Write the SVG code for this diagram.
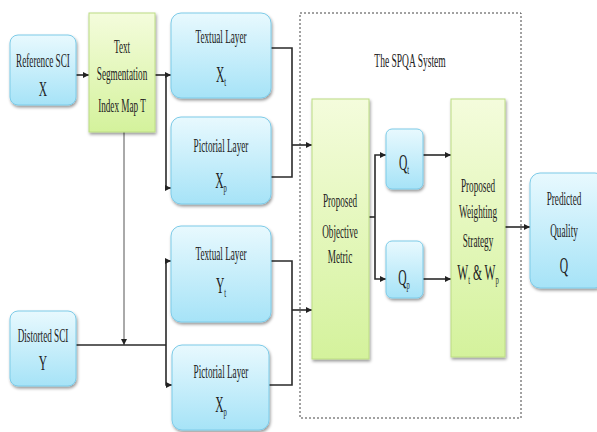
<svg xmlns="http://www.w3.org/2000/svg" width="597" height="432" viewBox="0 0 597 432">
<defs>
<linearGradient id="gb" x1="0" y1="0" x2="0" y2="1"><stop offset="0" stop-color="#e8f9fe"/><stop offset="1" stop-color="#a6e3f7"/></linearGradient>
<linearGradient id="gg" x1="0" y1="0" x2="0" y2="1"><stop offset="0" stop-color="#f4fcdc"/><stop offset="1" stop-color="#d4f29c"/></linearGradient>
<filter id="sh" x="-20%" y="-20%" width="140%" height="140%"><feDropShadow dx="1" dy="2" stdDeviation="1.5" flood-color="#000" flood-opacity="0.4"/></filter>
<marker id="ar" viewBox="0 0 8 8" refX="8" refY="4" markerWidth="6" markerHeight="6" markerUnits="userSpaceOnUse" orient="auto"><path d="M0,0 L8,4 L0,8 z" fill="#222"/></marker>
<style>
.b{fill:url(#gb);stroke:#7ccbe8;stroke-width:1;filter:url(#sh)}
.g{fill:url(#gg);stroke:#bcdc84;stroke-width:1;filter:url(#sh)}
.t{font-family:"Liberation Serif","Times New Roman",serif;font-size:17px;fill:#222;text-anchor:middle}
.L{font-family:"Liberation Serif","Times New Roman",serif;font-size:21px;fill:#222;text-anchor:middle}
.s{font-size:12px}
.c{fill:none;stroke:#2a2a2a;stroke-width:1.6}
.ca{fill:none;stroke:#2a2a2a;stroke-width:1.6;marker-end:url(#ar)}
.thin{fill:none;stroke:#555;stroke-width:1;marker-end:url(#ar)}
</style>
</defs>
<rect width="597" height="432" fill="#fff"/>
<g id="system">
<rect x="300" y="13" width="221" height="405" fill="none" stroke="#444" stroke-width="1" stroke-dasharray="2,2"/>
<text class="t" transform="translate(410,67) scale(0.56,1.15)">The SPQA System</text>
</g>
<g id="connectors">
<path class="ca" d="M76,75 H89"/>
<path class="ca" d="M155,75 H171"/>
<path class="ca" d="M166,75 V188 H171"/>
<path class="c" d="M271,48 H292 V177 H271"/>
<path class="ca" d="M292,145 H312"/>
<path class="thin" d="M124,132 V345"/>
<path class="c" d="M76,345 H166"/>
<path class="ca" d="M166,345 V261 H171"/>
<path class="ca" d="M166,345 V385 H172"/>
<path class="c" d="M271,261 H292 V385 H269"/>
<path class="ca" d="M292,310 H312"/>
<path class="c" d="M369,217 H375"/>
<path class="ca" d="M375,217 V155 H386"/>
<path class="ca" d="M375,217 V279 H386"/>
<path class="ca" d="M423,155 H451"/>
<path class="ca" d="M423,279 H451"/>
<path class="ca" d="M505,227 H530"/>
</g>
<g id="ref">
<rect class="b" x="10" y="35" width="66" height="70" rx="8"/>
<text class="t" transform="translate(43,67) scale(0.54,1.15)">Reference SCI</text>
<text class="L" transform="translate(43,96) scale(0.55,1)">X</text>
</g>
<g id="seg">
<rect class="g" x="89" y="13" width="66" height="119"/>
<text class="t" transform="translate(122,53) scale(0.54,1.15)">Text</text>
<text class="t" transform="translate(122,80) scale(0.54,1.15)">Segmentation</text>
<text class="t" transform="translate(122,112) scale(0.54,1.15)">Index Map T</text>
</g>
<g id="xt">
<rect class="b" x="171" y="13" width="100" height="85" rx="10"/>
<text class="t" transform="translate(221,43) scale(0.54,1.15)">Textual Layer</text>
<text class="L" transform="translate(221,82) scale(0.55,1.05)">X<tspan class="s" dy="4">t</tspan></text>
</g>
<g id="xp">
<rect class="b" x="171" y="117" width="100" height="87" rx="10"/>
<text class="t" transform="translate(221,152) scale(0.54,1.15)">Pictorial Layer</text>
<text class="L" transform="translate(221,188) scale(0.55,1.05)">X<tspan class="s" dy="4">p</tspan></text>
</g>
<g id="yt">
<rect class="b" x="171" y="226" width="100" height="96" rx="10"/>
<text class="t" transform="translate(221,260) scale(0.54,1.15)">Textual Layer</text>
<text class="L" transform="translate(221,293) scale(0.55,1.05)">Y<tspan class="s" dy="4">t</tspan></text>
</g>
<g id="yp">
<rect class="b" x="172" y="345" width="97" height="85" rx="10"/>
<text class="t" transform="translate(221,378) scale(0.54,1.15)">Pictorial Layer</text>
<text class="L" transform="translate(221,412) scale(0.55,1.05)">X<tspan class="s" dy="4">p</tspan></text>
</g>
<g id="dist">
<rect class="b" x="10" y="311" width="66" height="75" rx="8"/>
<text class="t" transform="translate(43,342) scale(0.54,1.15)">Distorted SCI</text>
<text class="L" transform="translate(43,370) scale(0.55,1)">Y</text>
</g>
<g id="obj">
<rect class="g" x="312" y="99" width="57" height="260"/>
<text class="t" transform="translate(340,207) scale(0.54,1.15)">Proposed</text>
<text class="t" transform="translate(340,238) scale(0.54,1.15)">Objective</text>
<text class="t" transform="translate(340,263) scale(0.54,1.15)">Metric</text>
</g>
<g id="qt">
<rect class="b" x="386" y="129" width="37" height="60" rx="6"/>
<text class="L" transform="translate(404,170) scale(0.55,1.05)">Q<tspan class="s" dy="4">t</tspan></text>
</g>
<g id="qp">
<rect class="b" x="386" y="241" width="37" height="57" rx="6"/>
<text class="L" transform="translate(404,285) scale(0.55,1.05)">Q<tspan class="s" dy="4">p</tspan></text>
</g>
<g id="ws">
<rect class="g" x="451" y="99" width="54" height="258"/>
<text class="t" transform="translate(478,192) scale(0.54,1.15)">Proposed</text>
<text class="t" transform="translate(478,218) scale(0.54,1.15)">Weighting</text>
<text class="t" transform="translate(478,247) scale(0.54,1.15)">Strategy</text>
<text class="L" transform="translate(478,280) scale(0.55,1.05)">W<tspan class="s" dy="4">t</tspan><tspan dy="-4"> &amp; W</tspan><tspan class="s" dy="4">p</tspan></text>
</g>
<g id="pq">
<rect class="b" x="530" y="173" width="75" height="115" rx="10"/>
<text class="t" transform="translate(564,205) scale(0.54,1.15)">Predicted</text>
<text class="t" transform="translate(564,237) scale(0.54,1.15)">Quality</text>
<text class="L" transform="translate(564,273) scale(0.55,1.05)">Q</text>
</g>
</svg>
